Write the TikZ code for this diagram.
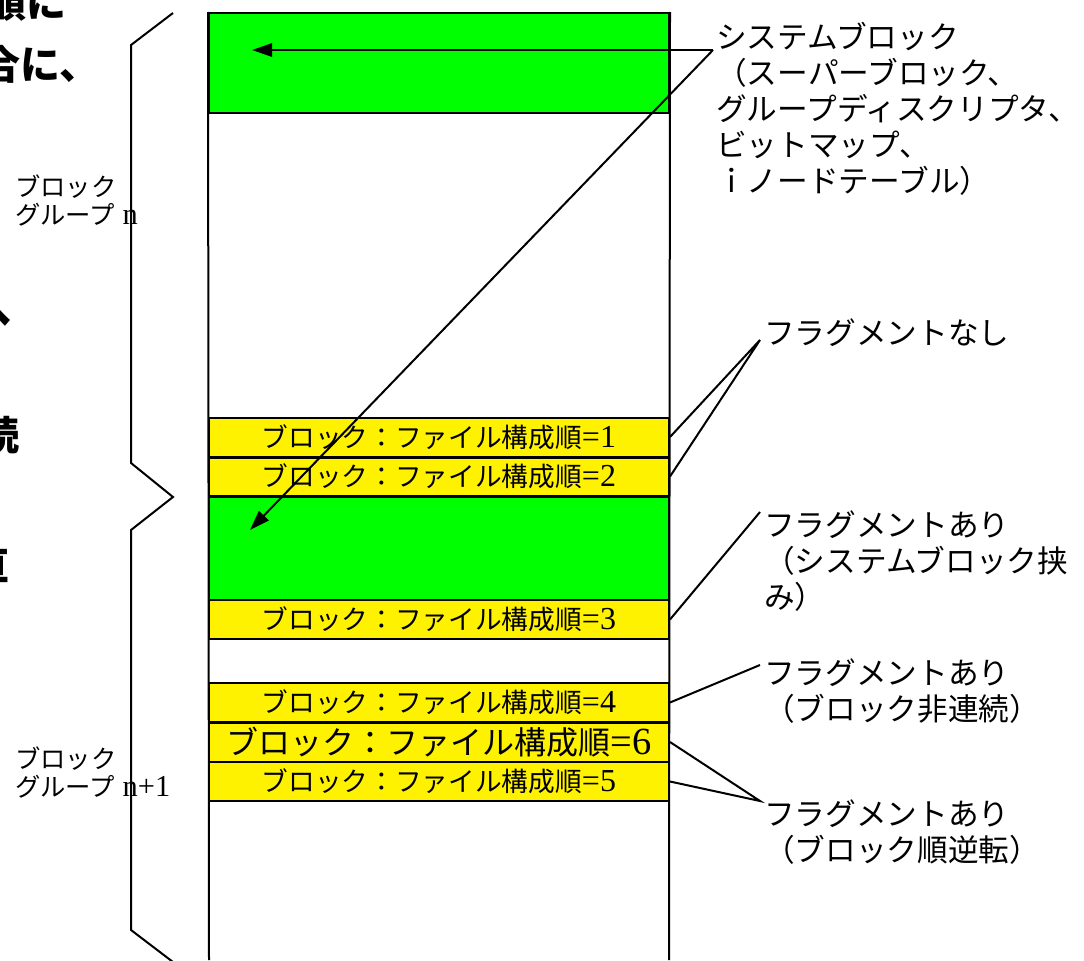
\documentclass[tikz,border=0pt]{standalone}
\usepackage{fontspec}
\setmainfont{Liberation Serif}[Scale=1.2]
\newfontfamily\jp{Noto Sans CJK JP}
\usetikzlibrary{arrows.meta}
\tikzset{
  blk/.style={draw, line width=1.5pt, inner sep=0pt, minimum width=345pt},
  sysblk/.style={blk, fill=green, minimum height=75pt},
  fileblk/.style={blk, fill=yellow, minimum height=29.25pt, font=\fontsize{20}{22}\selectfont},
  lead/.style={line width=1.5pt},
  note/.style={align=left, inner sep=0pt, anchor=north west, font=\jp\fontsize{23}{27}\selectfont},
  grp/.style={align=left, inner sep=0pt, anchor=north west, font=\fontsize{19}{20.5}\selectfont},
  frag/.style={inner sep=0pt, anchor=east, font=\jp\bfseries\fontsize{30}{30}\selectfont}
}
\begin{document}
\begin{tikzpicture}[x=0.75pt,y=-0.75pt]
  \useasboundingbox (0,0) rectangle (1084,960);
  \begin{scope}
    \clip (0,0) rectangle (1084,960);
    \node[frag] (fraga) at (67,3) {順に};
    \node[frag] (fragb) at (100,64) {合に、};
    \node[frag] (fragc) at (12,312) {へ};
    \node[frag] (fragd) at (20,435) {続};
    \node[frag] (frage) at (10,565) {直};
  \end{scope}

  \node[sysblk] (g1) at (439,63) {};
  \node[fileblk] (b1) at (439,437) {{\jp ブロック：ファイル構成順}=1};
  \node[fileblk, minimum height=28.5pt] (b2) at (439,476.5) {{\jp ブロック：ファイル構成順}=2};
  \node[sysblk, minimum height=77pt] (g2) at (439,548.5) {};
  \node[fileblk] (b3) at (439,619.5) {{\jp ブロック：ファイル構成順}=3};
  \node[fileblk] (b4) at (439,702.5) {{\jp ブロック：ファイル構成順}=4};
  \node[fileblk, font=\fontsize{24}{26}\selectfont] (b6) at (439,742) {{\jp ブロック：ファイル構成順}=6};
  \node[fileblk] (b5) at (439,781.5) {{\jp ブロック：ファイル構成順}=5};
  \coordinate (colbl) at (209,960);
  \coordinate (colbr) at (669,960);
  \draw[lead] (g1.north west) -- (colbl);
  \draw[lead] (g1.north east) -- (colbr);

  \draw[lead] (173,13) -- (131,45) -- (131,463) -- (173,497)
    -- (131,530) -- (131,930) -- (173,962);
  \node[grp] (grpn) at (15,175) {{\jp ブロック}\\{\jp グループ} n};
  \node[grp] (grpm) at (15,747) {{\jp ブロック}\\{\jp グループ} n+1};

  \node[note] (sysnote) at (716,22) {システムブロック\\（スーパーブロック、\\グループディスクリプタ、\\ビットマップ、\\ｉノードテーブル）};
  \node[note] (nofrag) at (764,318) {フラグメントなし};
  \node[note] (fragsys) at (764,510) {フラグメントあり\\（システムブロック挟\\み）};
  \node[note] (fragnc) at (764,658) {フラグメントあり\\（ブロック非連続）};
  \node[note] (fragrev) at (764,799) {フラグメントあり\\（ブロック順逆転）};

  \coordinate (sysdot) at (713,50);
  \coordinate (tipa) at (252,50);
  \coordinate (tipb) at (250,530);
  \draw[lead, -{Triangle[length=15pt,width=10pt]}] (sysdot) -- (tipa);
  \draw[lead, -{Triangle[length=15pt,width=10pt]}] (sysdot) -- (tipb);

  \coordinate (nofragpt) at (760,340);
  \coordinate (fragsyspt) at (760,512);
  \coordinate (fragncpt) at (760,665);
  \coordinate (fragrevpt) at (760,801);
  \draw[lead] (b1.east) -- (nofragpt) -- (b2.east);
  \draw[lead] (b3.east) -- (fragsyspt);
  \draw[lead] (b4.east) -- (fragncpt);
  \draw[lead] (b6.east) -- (fragrevpt) -- (b5.east);
\end{tikzpicture}
\end{document}
